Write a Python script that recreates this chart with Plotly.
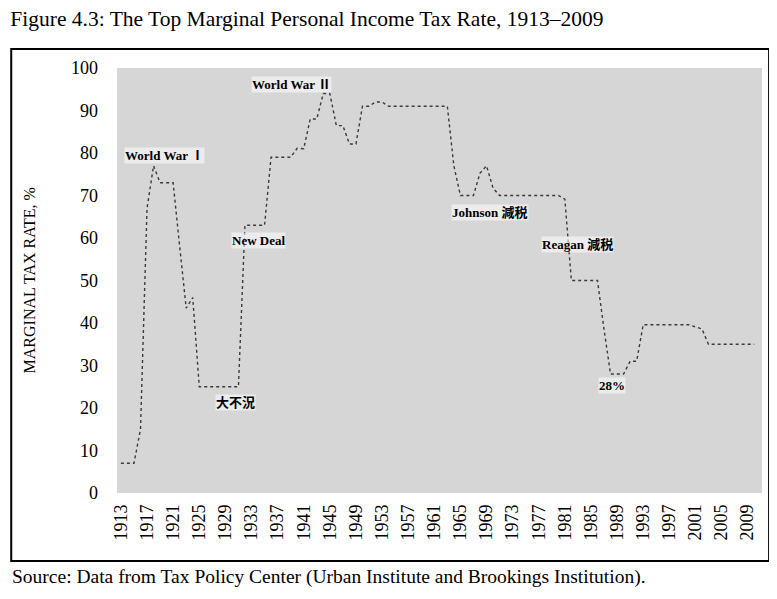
import plotly.graph_objects as go

# top marginal rate by year
years = list(range(1913, 2011))
rates = [
    7, 7, 7, 15, 67, 77, 73, 73, 73, 58,               # 1913-1922
    43.5, 46, 25, 25, 25, 25, 25, 25, 25, 63,          # 1923-1932
    63, 63, 63, 79, 79, 79, 79, 81.1, 81, 88,          # 1933-1942
    88, 94, 94, 86.45, 86.45, 82.13, 82.13, 91, 91, 92,  # 1943-1952
    92, 91, 91, 91, 91, 91, 91, 91, 91, 91,            # 1953-1962
    91, 77, 70, 70, 70, 75.25, 77, 71.75, 70, 70,      # 1963-1972
    70, 70, 70, 70, 70, 70, 70, 70, 69.13, 50,         # 1973-1982
    50, 50, 50, 50, 38.5, 28, 28, 28, 31, 31,          # 1983-1992
    39.6, 39.6, 39.6, 39.6, 39.6, 39.6, 39.6, 39.6, 39.1, 38.6,  # 1993-2002
    35, 35, 35, 35, 35, 35, 35, 35,                    # 2003-2010
]
tick_years = [1913, 1917, 1921, 1925, 1929, 1933, 1937, 1941, 1945, 1949,
              1953, 1957, 1961, 1965, 1969, 1973, 1977, 1981, 1985, 1989,
              1993, 1997, 2001, 2005, 2009]
y_ticks = [0, 10, 20, 30, 40, 50, 60, 70, 80, 90, 100]

# annotations: (label, year, rate)
notes = [
    ("World War Ⅰ", 1919.7, 79.5),
    ("World War Ⅱ", 1939.2, 96.2),
    ("New Deal", 1934.1, 59.3),
    ("大不況", 1930.6, 21.2),
    ("Johnson 減税", 1969.5, 65.9),
    ("Reagan 減税", 1983.0, 58.4),
    ("28%", 1988.2, 25.4),
]

serif = "Liberation Serif, DejaVu Serif, serif"
cjk = "Liberation Serif, Noto Sans CJK JP, serif"

fig = go.Figure()
fig.add_trace(go.Scatter(
    x=years, y=rates, mode="lines",
    line=dict(color="#3a3a3a", width=1.4, dash="dot"),
    showlegend=False, hoverinfo="x+y",
))

for label, x, y in notes:
    fig.add_annotation(x=x, y=y, text="<b>%s</b>" % label, showarrow=False,
                       font=dict(family=cjk, size=13, color="black"),
                       bgcolor="rgba(255,255,255,0.55)", borderpad=0)

# y-axis title as a rotated annotation
fig.add_annotation(xref="paper", yref="paper", x=-0.135, y=0.50,
                   xanchor="center", yanchor="middle",
                   text="MARGINAL TAX RATE, %", textangle=-90, showarrow=False,
                   font=dict(family=serif, size=16, color="black"))

# source line
fig.add_annotation(xref="paper", yref="paper", x=-0.166, y=-0.198,
                   xanchor="left", yanchor="middle", showarrow=False,
                   text="Source: Data from Tax Policy Center (Urban Institute and Brookings Institution).",
                   font=dict(family=serif, size=19.5, color="black"))

# outer frame around the figure
fig.add_shape(type="rect", xref="paper", yref="paper",
              x0=-0.164, x1=1.011, y0=-0.16, y1=1.045,
              line=dict(color="black", width=2))

# page body has an 8px margin, so the figure is drawn 8px smaller
fig.update_layout(
    width=769, height=591,
    margin=dict(l=109, r=15, t=60, b=106),
    paper_bgcolor="white",
    plot_bgcolor="#d6d6d6",
    title=dict(text="Figure 4.3: The Top Marginal Personal Income Tax Rate, 1913–2009",
               xref="container", yref="container", x=0.003, y=0.983,
               xanchor="left", yanchor="middle",
               font=dict(family=serif, size=21.5, color="black")),
    font=dict(family=serif, color="black"),
)
fig.update_xaxes(range=[1912.4, 2011.2], tickvals=tick_years,
                 ticktext=[str(v) for v in tick_years], tickangle=-90,
                 tickfont=dict(family=serif, size=18), showgrid=False,
                 zeroline=False, ticks="", ticklabelstandoff=7)
fig.update_yaxes(range=[0, 100], tickvals=y_ticks, tickfont=dict(family=serif, size=18),
                 showgrid=False, zeroline=False, ticks="", ticklabelstandoff=18)

fig.write_html("out.html")
